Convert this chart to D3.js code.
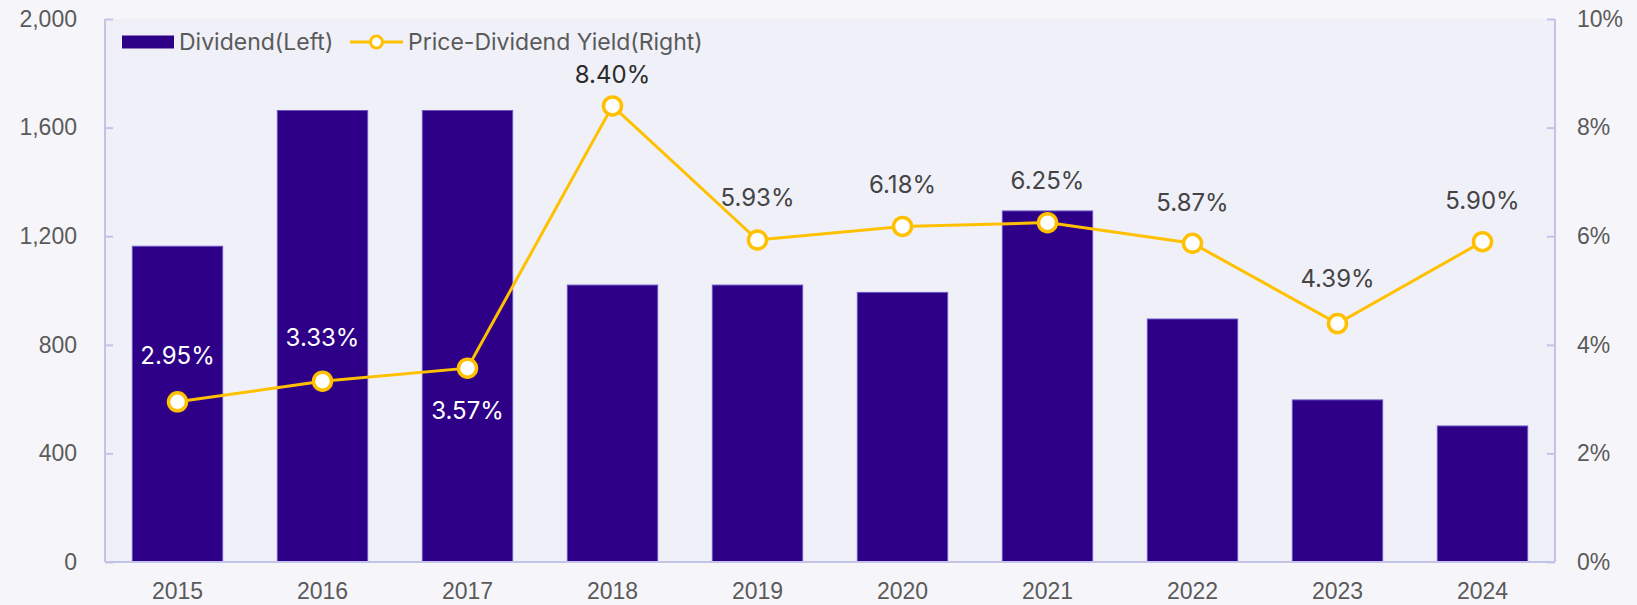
<!DOCTYPE html>
<html>
<head>
<meta charset="utf-8">
<script src="https://cdn.jsdelivr.net/npm/d3@7"></script>
<style>
    body { margin: 0; background: #f6f6fa; }
    svg { display: block; font-family: Inter, "Noto Sans", sans-serif; }
</style>
</head>
<body>
<svg id="chart" width="1637" height="605"></svg>
<script>
const years = ["2015", "2016", "2017", "2018", "2019", "2020", "2021", "2022", "2023", "2024"];
const dividend = [1163, 1663, 1663, 1020, 1020, 993, 1293, 895, 597, 501];
const yieldPct = [2.95, 3.33, 3.57, 8.40, 5.93, 6.18, 6.25, 5.87, 4.39, 5.90];
const leftTicks = [0, 400, 800, 1200, 1600, 2000];
const rightTicks = [0, 2, 4, 6, 8, 10];

// label placement per point (styling, not data)
const labelDy = [-46, -44, 42, -31, -42, -42, -42, -41, -45, -41];
const labelColor = ["#fff", "#fff", "#fff", "#2b2b2b", "#444", "#444", "#444", "#444", "#444", "#444"];

const margin = { left: 105, right: 82, top: 19, bottom: 43 };
const W = 1637, H = 605;
const width = W - margin.left - margin.right;
const height = H - margin.top - margin.bottom;

const svg = d3.select("#chart");

const g = svg.append("g")
    .attr("transform", `translate(${margin.left},${margin.top})`);

// plot background
g.append("rect")
    .attr("width", width)
    .attr("height", height)
    .attr("fill", "#f0f0f8");

const x = d3.scaleBand().domain(years).range([0, width]).paddingInner(0.377).paddingOuter(0.1885);
const yL = d3.scaleLinear().domain([0, 2000]).range([height, 0]);
const yR = d3.scaleLinear().domain([0, 10]).range([height, 0]);

const axisColor = "#c3c3e8";
const textColor = "#5a5a5a";

// bars
g.selectAll(".bar")
    .data(dividend)
    .enter().append("rect")
    .attr("class", "bar")
    .attr("x", (d, i) => x(years[i]))
    .attr("y", d => yL(d))
    .attr("width", x.bandwidth())
    .attr("height", d => height - yL(d))
    .attr("fill", "#2e0087")
    .attr("stroke", "#6a56c4")
    .attr("stroke-width", 1);

// left axis
const leftAxis = g.append("g")
    .call(d3.axisLeft(yL).tickValues(leftTicks).tickSize(-8).tickPadding(28).tickFormat(d3.format(",")));
// right axis
const rightAxis = g.append("g")
    .attr("transform", `translate(${width},0)`)
    .call(d3.axisRight(yR).tickValues(rightTicks).tickSize(-8).tickPadding(22).tickFormat(d => d + "%"));
// bottom axis
const bottomAxis = g.append("g")
    .attr("transform", `translate(0,${height})`)
    .call(d3.axisBottom(x).tickSize(0).tickPadding(21));

[leftAxis, rightAxis, bottomAxis].forEach(ax => {
    ax.select(".domain").attr("stroke", axisColor).attr("stroke-width", 2);
    ax.selectAll(".tick line").attr("stroke", axisColor).attr("stroke-width", 2);
    ax.selectAll(".tick text").attr("fill", textColor).attr("font-size", "23px");
});
leftAxis.select(".domain").attr("d", `M0,0V${height}`);
rightAxis.select(".domain").attr("d", `M0,0V${height}`);
bottomAxis.select(".domain").attr("d", `M0,0H${width}`);

// yield line
const line = d3.line()
    .x((d, i) => x(years[i]) + x.bandwidth() / 2)
    .y(d => yR(d));

g.append("path")
    .datum(yieldPct)
    .attr("fill", "none")
    .attr("stroke", "#ffc000")
    .attr("stroke-width", 3)
    .attr("d", line);

g.selectAll(".dot")
    .data(yieldPct)
    .enter().append("circle")
    .attr("class", "dot")
    .attr("cx", (d, i) => x(years[i]) + x.bandwidth() / 2)
    .attr("cy", d => yR(d))
    .attr("r", 9)
    .attr("fill", "#fff")
    .attr("stroke", "#ffc000")
    .attr("stroke-width", 3.5);

g.selectAll(".lbl")
    .data(yieldPct)
    .enter().append("text")
    .attr("class", "lbl")
    .attr("x", (d, i) => x(years[i]) + x.bandwidth() / 2)
    .attr("y", (d, i) => yR(d) + labelDy[i])
    .attr("dy", "0.35em")
    .attr("text-anchor", "middle")
    .attr("font-size", "24px")
    .attr("fill", (d, i) => labelColor[i])
    .text(d => d.toFixed(2) + "%");

// legend
const legend = svg.append("g").attr("transform", "translate(122,42)");
legend.append("rect")
    .attr("x", 0).attr("y", -6.5)
    .attr("width", 52).attr("height", 13)
    .attr("fill", "#2e0087");
legend.append("text")
    .attr("x", 57).attr("dy", "0.35em")
    .attr("font-size", "23px").attr("fill", textColor)
    .text("Dividend(Left)");
legend.append("line")
    .attr("x1", 228).attr("x2", 281)
    .attr("stroke", "#ffc000").attr("stroke-width", 3);
legend.append("circle")
    .attr("cx", 254.5).attr("r", 6)
    .attr("fill", "#fff").attr("stroke", "#ffc000").attr("stroke-width", 3);
legend.append("text")
    .attr("x", 286).attr("dy", "0.35em")
    .attr("font-size", "23px").attr("fill", textColor)
    .text("Price-Dividend Yield(Right)");
</script>
</body>
</html>
